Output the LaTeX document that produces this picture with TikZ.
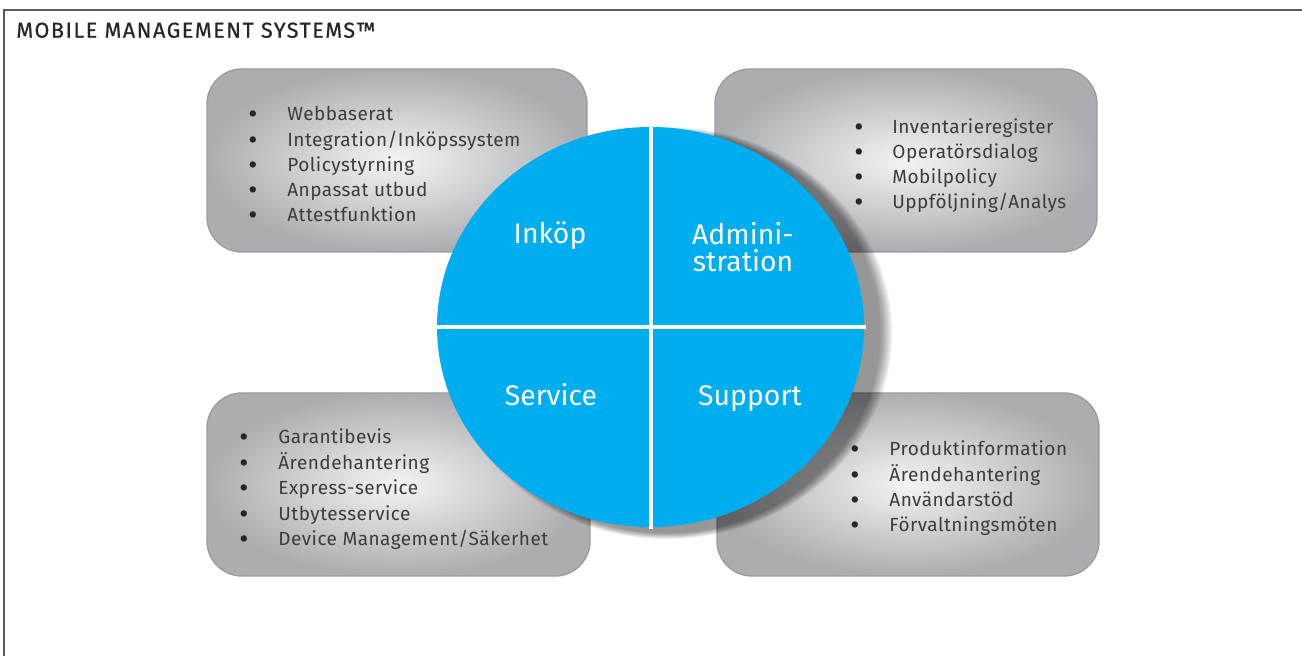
\documentclass[tikz,border=0pt]{standalone}
\usepackage{fontspec}
\setmainfont{Fira Sans}
\usetikzlibrary{positioning}
\definecolor{mmsblue}{RGB}{0,174,239}
\definecolor{boxedge}{RGB}{172,173,177}
\definecolor{boxlight}{RGB}{244,244,245}
\definecolor{itemtext}{RGB}{60,60,60}
\definecolor{framegrey}{RGB}{90,90,90}

\tikzset{
  infobox/.style={shading=radial, inner color=boxlight, outer color=boxedge,
    draw=boxedge!90!black, line width=0.7pt, rounded corners=17.5pt},
  item/.style={anchor=base west, inner sep=0pt, text=itemtext,
    font=\fontsize{9.5}{11}\selectfont\addfontfeature{LetterSpace=2.5}},
  bulletmark/.style={anchor=base, inner sep=0pt, text=black!85,
    font=\fontsize{14}{14}\selectfont},
  quarter/.style={anchor=base, inner sep=0pt, text=white,
    font=\fontsize{14.2}{13.7}\selectfont},
}

\begin{document}
\begin{tikzpicture}[x=0.5pt, y=-0.5pt]
    \useasboundingbox (0,0) rectangle (1302,656);

    % frame and heading
    \draw[framegrey, line width=0.6pt] (1302,10) -- (4,10) -- (4,656);
    \node[anchor=base west, inner sep=0pt, text=black!85,
      font=\fontsize{10.8}{12}\selectfont\addfontfeature{LetterSpace=7,FakeBold=0.6}] (title) at (16,37.7)
      {MOBILE MANAGEMENT SYSTEMS™};

    % grey boxes
    \path[infobox] (207,69) rectangle (587,252);
    \path[infobox] (715,69) rectangle (1097,252);
    \path[infobox] (207,393) rectangle (590,576);
    \path[infobox] (717,393) rectangle (1099,576);

    \foreach \txt [count=\i] in {Webbaserat, Integration/Inköpssystem, Policystyrning, Anpassat utbud, Attestfunktion}{
        \node[bulletmark] (inb-\i) at (253,{124+25.2*(\i-1)}) {\textbullet};
        \node[item] (in-\i) at (287,{121+25.2*(\i-1)}) {\txt};
    }
    \foreach \txt [count=\i] in {Inventarieregister, Operatörsdialog, Mobilpolicy, Uppföljning/Analys}{
        \node[bulletmark] (adb-\i) at (859,{136.3+25*(\i-1)}) {\textbullet};
        \node[item] (ad-\i) at (892,{133.3+25*(\i-1)}) {\txt};
    }
    \foreach \txt [count=\i] in {Garantibevis, Ärendehantering, Express-service, Utbytesservice, Device Management/Säkerhet}{
        \node[bulletmark] (seb-\i) at (244,{447+25.4*(\i-1)}) {\textbullet};
        \node[item] (se-\i) at (278,{444+25.4*(\i-1)}) {\txt};
    }
    \foreach \txt [count=\i] in {Produktinformation, Ärendehantering, Användarstöd, Förvaltningsmöten}{
        \node[bulletmark] (sub-\i) at (855,{459+25.2*(\i-1)}) {\textbullet};
        \node[item] (su-\i) at (889,{456+25.2*(\i-1)}) {\txt};
    }

    % shadow of the disc
    \foreach \r in {12,11,...,0}
        \fill[black, opacity=0.04] (667,333) ellipse [x radius={213.5+\r}, y radius={200+0.5*\r}];

    % the disc
    \fill[mmsblue] (650.5,327) ellipse [x radius=213.5, y radius=200];
    \draw[white, line width=2pt] (651,125) -- (651,529);
    \draw[white, line width=2pt] (435,327) -- (866,327);

    \node[quarter] (inkop) at (550,244) {Inköp};
    \node[quarter, align=center] (admin) at (743,271.7) {Admini-\\stration};
    \node[quarter] (service) at (551,406) {Service};
    \node[quarter] (support) at (750,406) {Support};

\end{tikzpicture}
\end{document}
